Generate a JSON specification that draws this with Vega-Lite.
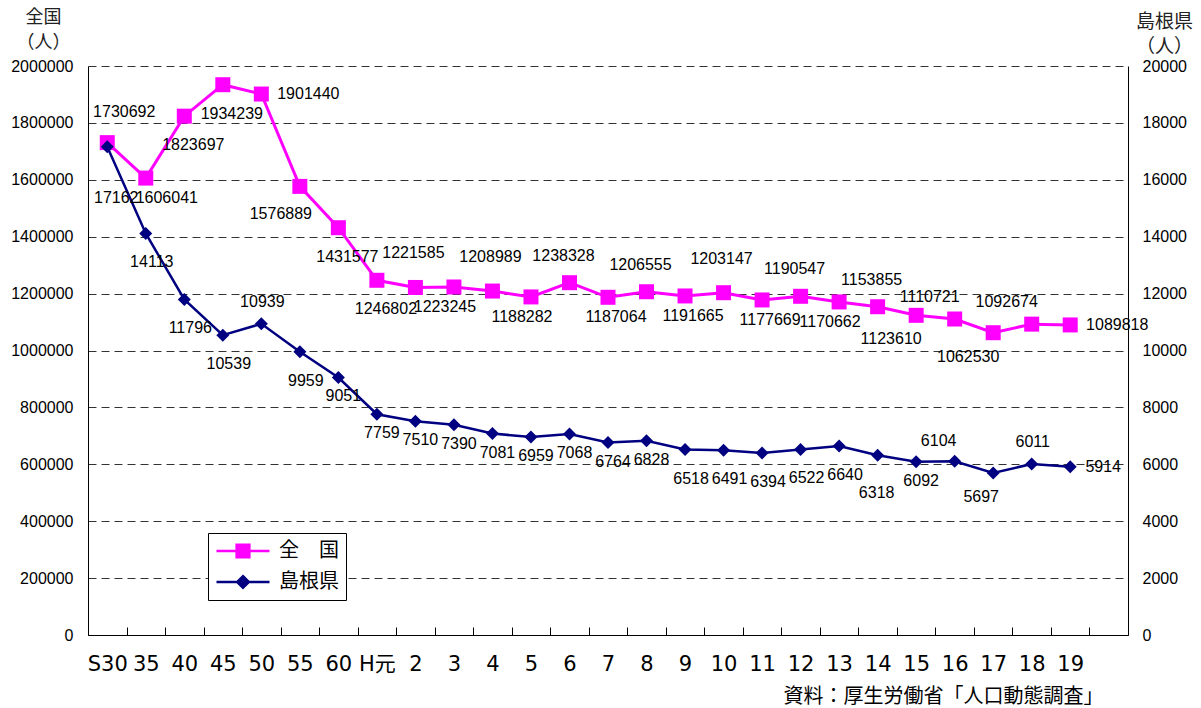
{
  "$schema": "https://vega.github.io/schema/vega-lite/v6.json",
  "autosize": {"type": "none"},
  "width": 1040,
  "height": 569,
  "padding": {"left": 88, "top": 66, "right": 73, "bottom": 73},
  "background": "white",
  "config": {
    "view": {"stroke": null},
    "text": {"font": "Liberation Sans", "fontSize": 16, "color": "black", "align": "center", "baseline": "middle"}
  },
  "data": {"values": [
    {"period": "S30", "national": 1730692, "shimane": 17162},
    {"period": "35", "national": 1606041, "shimane": 14113},
    {"period": "40", "national": 1823697, "shimane": 11796},
    {"period": "45", "national": 1934239, "shimane": 10539},
    {"period": "50", "national": 1901440, "shimane": 10939},
    {"period": "55", "national": 1576889, "shimane": 9959},
    {"period": "60", "national": 1431577, "shimane": 9051},
    {"period": "H元", "national": 1246802, "shimane": 7759},
    {"period": "2", "national": 1221585, "shimane": 7510},
    {"period": "3", "national": 1223245, "shimane": 7390},
    {"period": "4", "national": 1208989, "shimane": 7081},
    {"period": "5", "national": 1188282, "shimane": 6959},
    {"period": "6", "national": 1238328, "shimane": 7068},
    {"period": "7", "national": 1187064, "shimane": 6764},
    {"period": "8", "national": 1206555, "shimane": 6828},
    {"period": "9", "national": 1191665, "shimane": 6518},
    {"period": "10", "national": 1203147, "shimane": 6491},
    {"period": "11", "national": 1177669, "shimane": 6394},
    {"period": "12", "national": 1190547, "shimane": 6522},
    {"period": "13", "national": 1170662, "shimane": 6640},
    {"period": "14", "national": 1153855, "shimane": 6318},
    {"period": "15", "national": 1123610, "shimane": 6092},
    {"period": "16", "national": 1110721, "shimane": 6104},
    {"period": "17", "national": 1062530, "shimane": 5697},
    {"period": "18", "national": 1092674, "shimane": 6011},
    {"period": "19", "national": 1089818, "shimane": 5914}
  ]},
  "encoding": {
    "x": {
      "field": "period", "type": "ordinal", "sort": null,
      "scale": {"type": "band", "paddingInner": 0, "paddingOuter": 0,
        "domain": ["S30","35","40","45","50","55","60","H元","2","3","4","5","6","7","8","9","10","11","12","13","14","15","16","17","18","19","_"]},
      "axis": {
        "orient": "bottom", "labelAngle": 0, "tickBand": "extent", "tickSize": -8,
        "domainColor": "black", "tickColor": "black", "domainWidth": 1,
        "labelFont": "DejaVu Sans, Noto Sans CJK JP", "labelFontSize": 21, "labelColor": "black",
        "labelPadding": 43, "labelBaseline": "alphabetic", "labelOverlap": false, "labelBound": false, "labelFlush": false,
        "labelExpr": "datum.value == '_' ? '' : datum.value",
        "grid": false,
        "title": "資料：厚生労働省「人口動態調査」",
        "titleFont": "Noto Sans CJK JP", "titleFontSize": 20, "titleFontWeight": "normal", "titleColor": "black",
        "titleAnchor": null, "titleX": 1015, "titleY": 67, "titleAlign": "right", "titleBaseline": "alphabetic"
      }
    }
  },
  "layer": [
    {
      "encoding": {
        "y": {
          "field": "national", "type": "quantitative",
          "scale": {"domain": [0, 2000000], "nice": false, "zero": true},
          "axis": {
            "orient": "left", "values": [0,200000,400000,600000,800000,1000000,1200000,1400000,1600000,1800000,2000000],
            "format": "d", "grid": true, "gridDash": [8, 5], "gridColor": "#333", "gridWidth": 1,
            "ticks": false, "domainColor": "black", "domainWidth": 1,
            "labelFont": "Liberation Sans", "labelFontSize": 16, "labelColor": "black", "labelPadding": 15,
            "title": ["全国", "（人）"], "titleAngle": 0, "titleX": -45, "titleY": -58, "titleAlign": "center",
            "titleBaseline": "top", "titleLineHeight": 25, "titleFont": "Noto Sans CJK JP", "titleFontSize": 18,
            "titleFontWeight": "normal", "titleColor": "#222"
          }
        }
      },
      "layer": [
        {
          "mark": {"type": "line", "strokeWidth": 3},
          "encoding": {
            "color": {
              "datum": "全国", "type": "nominal",
              "scale": {"domain": ["全国", "島根県"], "range": ["#FF00FF", "#000080"]},
              "legend": {
                "orient": "none", "legendX": 120, "legendY": 467, "title": null,
                "strokeColor": "black", "fillColor": "white", "padding": 7,
                "symbolSize": 2809, "clipHeight": 22, "rowPadding": 9, "labelOffset": 8,
                "labelFont": "Noto Sans CJK JP", "labelFontSize": 20, "labelColor": "black",
                "labelExpr": "datum.value == '全国' ? '全　国' : datum.value",
                "encode": {
                  "symbols": {
                    "update": {
                      "shape": {"signal": "datum.value == '全国' ? 'M-1,0H1M-0.24,-0.24H0.24V0.24H-0.24Z' : 'M-1,0H1M0,-0.22L0.22,0L0,0.22L-0.22,0Z'"},
                      "fill": {"signal": "datum.value == '全国' ? '#FF00FF' : '#000080'"},
                      "stroke": {"signal": "datum.value == '全国' ? '#FF00FF' : '#000080'"},
                      "strokeWidth": {"value": 2.5}
                    }
                  }
                }
              }
            }
          }
        },
        {"mark": {"type": "point", "shape": "square", "size": 225, "filled": true, "color": "#FF00FF", "opacity": 1}},
        {"transform": [{"filter": {"field": "period", "oneOf": ["S30"]}}], "mark": {"type": "text", "dx": 17, "dy": -31}, "encoding": {"text": {"field": "national", "type": "quantitative", "format": "d"}}},
        {"transform": [{"filter": {"field": "period", "oneOf": ["2", "4", "10"]}}], "mark": {"type": "text", "dx": -2, "dy": -34}, "encoding": {"text": {"field": "national", "type": "quantitative", "format": "d"}}},
        {"transform": [{"filter": {"field": "period", "oneOf": ["6", "8", "12", "14"]}}], "mark": {"type": "text", "dx": -6, "dy": -27}, "encoding": {"text": {"field": "national", "type": "quantitative", "format": "d"}}},
        {"transform": [{"filter": {"field": "period", "oneOf": ["35"]}}], "mark": {"type": "text", "dx": 21, "dy": 20}, "encoding": {"text": {"field": "national", "type": "quantitative", "format": "d"}}},
        {"transform": [{"filter": {"field": "period", "oneOf": ["7", "9", "11"]}}], "mark": {"type": "text", "dx": 8, "dy": 20}, "encoding": {"text": {"field": "national", "type": "quantitative", "format": "d"}}},
        {"transform": [{"filter": {"field": "period", "oneOf": ["40", "45", "60", "H元"]}}], "mark": {"type": "text", "dx": 9, "dy": 29}, "encoding": {"text": {"field": "national", "type": "quantitative", "format": "d"}}},
        {"transform": [{"filter": {"field": "period", "oneOf": ["55"]}}], "mark": {"type": "text", "dx": -19, "dy": 28}, "encoding": {"text": {"field": "national", "type": "quantitative", "format": "d"}}},
        {"transform": [{"filter": {"field": "period", "oneOf": ["3", "5", "13"]}}], "mark": {"type": "text", "dx": -9, "dy": 20}, "encoding": {"text": {"field": "national", "type": "quantitative", "format": "d"}}},
        {"transform": [{"filter": {"field": "period", "oneOf": ["15", "17"]}}], "mark": {"type": "text", "dx": -25, "dy": 24}, "encoding": {"text": {"field": "national", "type": "quantitative", "format": "d"}}},
        {"transform": [{"filter": {"field": "period", "oneOf": ["16", "18"]}}], "mark": {"type": "text", "dx": -25, "dy": -22}, "encoding": {"text": {"field": "national", "type": "quantitative", "format": "d"}}},
        {"transform": [{"filter": {"field": "period", "oneOf": ["50", "19"]}}], "mark": {"type": "text", "dx": 47, "dy": 0}, "encoding": {"text": {"field": "national", "type": "quantitative", "format": "d"}}}
      ]
    },
    {
      "encoding": {
        "y": {
          "field": "shimane", "type": "quantitative",
          "scale": {"domain": [0, 20000], "nice": false, "zero": true},
          "axis": {
            "orient": "right", "values": [0,2000,4000,6000,8000,10000,12000,14000,16000,18000,20000],
            "format": "d", "grid": false, "ticks": false, "domainColor": "black", "domainWidth": 1,
            "labelFont": "Liberation Sans", "labelFontSize": 16, "labelColor": "black", "labelPadding": 14,
            "title": ["島根県", "（人）"], "titleAngle": 0, "titleX": 36, "titleY": -54, "titleAlign": "center",
            "titleBaseline": "top", "titleLineHeight": 25, "titleFont": "Noto Sans CJK JP", "titleFontSize": 19,
            "titleFontWeight": "normal", "titleColor": "#222"
          }
        }
      },
      "layer": [
        {"mark": {"type": "line", "strokeWidth": 2.5}, "encoding": {"color": {"datum": "島根県", "type": "nominal"}}},
        {"mark": {"type": "point", "shape": "diamond", "size": 169, "filled": true, "color": "#000080", "opacity": 1}},
        {"transform": [{"filter": {"field": "period", "oneOf": ["S30"]}}], "mark": {"type": "text", "dx": 9, "dy": 51}, "encoding": {"text": {"field": "shimane", "type": "quantitative", "format": "d"}}},
        {"transform": [{"filter": {"field": "period", "oneOf": ["60", "H元", "2", "3", "4", "5", "6", "7", "8", "15"]}}], "mark": {"type": "text", "dx": 5, "dy": 19}, "encoding": {"text": {"field": "shimane", "type": "quantitative", "format": "d"}}},
        {"transform": [{"filter": {"field": "period", "oneOf": ["35", "40", "45", "55", "9", "10", "11", "12", "13"]}}], "mark": {"type": "text", "dx": 6, "dy": 29}, "encoding": {"text": {"field": "shimane", "type": "quantitative", "format": "d"}}},
        {"transform": [{"filter": {"field": "period", "oneOf": ["14"]}}], "mark": {"type": "text", "dx": -1, "dy": 38}, "encoding": {"text": {"field": "shimane", "type": "quantitative", "format": "d"}}},
        {"transform": [{"filter": {"field": "period", "oneOf": ["17"]}}], "mark": {"type": "text", "dx": -12, "dy": 24}, "encoding": {"text": {"field": "shimane", "type": "quantitative", "format": "d"}}},
        {"transform": [{"filter": {"field": "period", "oneOf": ["50", "18"]}}], "mark": {"type": "text", "dx": 1, "dy": -22}, "encoding": {"text": {"field": "shimane", "type": "quantitative", "format": "d"}}},
        {"transform": [{"filter": {"field": "period", "oneOf": ["16"]}}], "mark": {"type": "text", "dx": -16, "dy": -20}, "encoding": {"text": {"field": "shimane", "type": "quantitative", "format": "d"}}},
        {"transform": [{"filter": {"field": "period", "oneOf": ["19"]}}], "mark": {"type": "text", "dx": 33, "dy": 0}, "encoding": {"text": {"field": "shimane", "type": "quantitative", "format": "d"}}}
      ]
    }
  ],
  "resolve": {"scale": {"y": "independent"}}
}
